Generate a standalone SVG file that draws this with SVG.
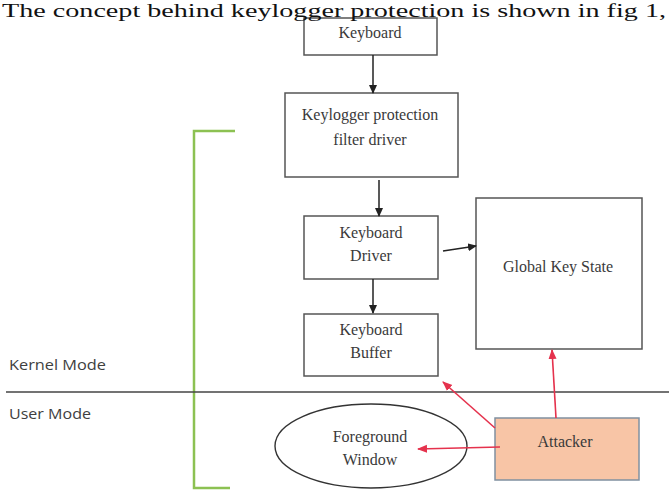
<svg xmlns="http://www.w3.org/2000/svg" width="669" height="490" viewBox="0 0 669 490">
<style>
.box{fill:#fff;stroke:#555;stroke-width:1.5}
.t{font-family:"Liberation Serif","Times New Roman",serif;font-size:16px;fill:#3a3a3a;text-anchor:middle}
.s{font-family:"Open Sans","Liberation Sans",sans-serif;font-size:15px;fill:#404040}
.blk{stroke:#222;stroke-width:1.5;fill:none;marker-end:url(#ab)}
.red{stroke:#e5324d;stroke-width:1.6;fill:none;marker-end:url(#ar)}
</style>
<defs>
<marker id="ab" markerWidth="9" markerHeight="9" refX="8" refY="4.5" orient="auto" markerUnits="userSpaceOnUse"><path d="M0,0.5 L9,4.5 L0,8.5 Z" fill="#222"/></marker>
<marker id="ar" markerWidth="10" markerHeight="9" refX="9" refY="4.5" orient="auto" markerUnits="userSpaceOnUse"><path d="M0,0.5 L10,4.5 L0,8.5 Z" fill="#e5324d"/></marker>
</defs>
<rect width="669" height="490" fill="#fff"/>
<g id="bracket"><path d="M235,131 H194 V488 H230" fill="none" stroke="#8cc152" stroke-width="2.5"/></g>
<g id="divider"><line x1="6" y1="392" x2="669" y2="392" stroke="#444" stroke-width="1.3"/></g>
<g id="kernel-label"><text class="s" x="9" y="370" textLength="97" lengthAdjust="spacingAndGlyphs">Kernel Mode</text></g>
<g id="user-label"><text class="s" x="9" y="419" textLength="82" lengthAdjust="spacingAndGlyphs">User Mode</text></g>
<g id="keyboard"><rect class="box" x="304" y="18" width="133" height="37"/><text class="t" x="370" y="38">Keyboard</text></g>
<g id="filter"><rect class="box" x="285" y="93" width="173" height="84"/><text class="t" x="370" y="120">Keylogger protection</text><text class="t" x="370" y="145">filter driver</text></g>
<g id="driver"><rect class="box" x="304" y="216" width="134" height="63"/><text class="t" x="371" y="238">Keyboard</text><text class="t" x="371" y="261">Driver</text></g>
<g id="buffer"><rect class="box" x="304" y="314" width="134" height="62"/><text class="t" x="371" y="335">Keyboard</text><text class="t" x="371" y="358">Buffer</text></g>
<g id="global"><rect class="box" x="476" y="198" width="166" height="151"/><text class="t" x="558" y="272">Global Key State</text></g>
<g id="foreground"><ellipse cx="371" cy="446" rx="96" ry="42" fill="#fff" stroke="#333" stroke-width="1.4"/><text class="t" x="370" y="442">Foreground</text><text class="t" x="370" y="465">Window</text></g>
<g id="attacker"><rect x="495" y="418" width="144" height="62" fill="#f8c5a6" stroke="#8090a0" stroke-width="1.5"/><text class="t" x="565" y="447">Attacker</text></g>
<g id="connectors">
<line class="blk" x1="373" y1="55" x2="373" y2="93"/>
<line class="blk" x1="379" y1="180" x2="379" y2="216"/>
<line class="blk" x1="373" y1="279" x2="373" y2="313"/>
<line class="blk" x1="443" y1="251" x2="476" y2="246"/>
<line class="red" x1="495" y1="428" x2="443" y2="382"/>
<line class="red" x1="556" y1="418" x2="552" y2="350"/>
<line class="red" x1="500" y1="447" x2="418" y2="449"/>
</g>
<text x="2" y="16.5" font-family="Liberation Serif,'Times New Roman',serif" font-size="18.5" fill="#111" textLength="664" lengthAdjust="spacingAndGlyphs">The concept behind keylogger protection is shown in fig 1,</text>
</svg>
